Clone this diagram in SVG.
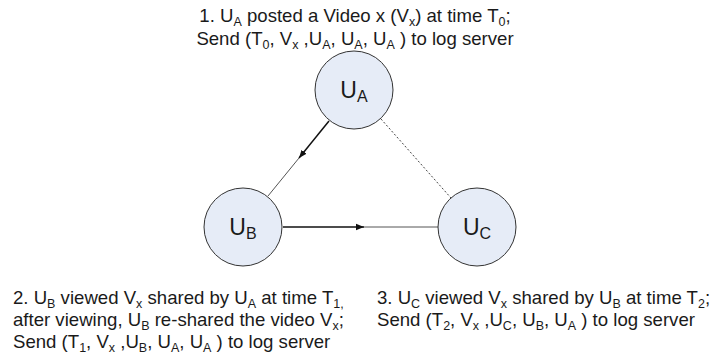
<svg xmlns="http://www.w3.org/2000/svg" width="720" height="354" viewBox="0 0 720 354">
<style>
  .t { font-family: "Liberation Sans", Arial, sans-serif; font-size: 18.6px; fill: #1a1a1a; }
  .s { font-size: 12.5px; }
  .node circle { fill: #e6ecf7; stroke: #333; stroke-width: 1; }
  .lbl { font-family: "Liberation Sans", Arial, sans-serif; font-size: 23px; fill: #1a1a1a; text-anchor: middle; }
  .ls { font-size: 16px; }
  .dark { stroke: #111; stroke-width: 1.5; fill: none; }
  .light { stroke: #555; stroke-width: 1; fill: none; }
  .dot { stroke: #444; stroke-width: 1; stroke-dasharray: 2 2; fill: none; }
</style>
<defs>
  <marker id="arr" viewBox="0 0 10 10" refX="10" refY="5" markerWidth="8" markerHeight="8" markerUnits="userSpaceOnUse" orient="auto">
    <path d="M0,1 L10,5 L0,9 z" fill="#111"/>
  </marker>
</defs>

<g id="connectors">
  <line class="dark" x1="329" y1="121" x2="299" y2="158" marker-end="url(#arr)"/>
  <line class="light" x1="299" y1="158" x2="268" y2="196"/>
  <line class="dark" x1="283" y1="227" x2="364" y2="227" marker-end="url(#arr)"/>
  <line class="light" x1="364" y1="227" x2="438" y2="227"/>
  <line class="dot" x1="381" y1="119" x2="451" y2="198"/>
</g>

<g id="node-UA" class="node">
  <circle cx="354" cy="90" r="39"/>
  <text class="lbl" x="354" y="98">U<tspan class="ls" dy="4">A</tspan></text>
</g>
<g id="node-UB" class="node">
  <circle cx="243" cy="227" r="39"/>
  <text class="lbl" x="243" y="235">U<tspan class="ls" dy="4">B</tspan></text>
</g>
<g id="node-UC" class="node">
  <circle cx="477" cy="227" r="39"/>
  <text class="lbl" x="477" y="235">U<tspan class="ls" dy="4">C</tspan></text>
</g>

<g id="label-1">
  <text class="t" x="355" y="22" text-anchor="middle">1. U<tspan class="s" dy="3.5">A</tspan><tspan dy="-3.5"> posted a Video x (V</tspan><tspan class="s" dy="3.5">x</tspan><tspan dy="-3.5">) at time T</tspan><tspan class="s" dy="3.5">0</tspan><tspan dy="-3.5">;</tspan></text>
  <text class="t" x="355" y="45" text-anchor="middle">Send (T<tspan class="s" dy="3.5">0</tspan><tspan dy="-3.5">, V</tspan><tspan class="s" dy="3.5">x</tspan><tspan dy="-3.5"> ,U</tspan><tspan class="s" dy="3.5">A</tspan><tspan dy="-3.5">, U</tspan><tspan class="s" dy="3.5">A</tspan><tspan dy="-3.5">, U</tspan><tspan class="s" dy="3.5">A</tspan><tspan dy="-3.5"> ) to log server</tspan></text>
</g>

<g id="label-2">
  <text class="t" x="13" y="304">2. U<tspan class="s" dy="3.5">B</tspan><tspan dy="-3.5"> viewed V</tspan><tspan class="s" dy="3.5">x</tspan><tspan dy="-3.5"> shared by U</tspan><tspan class="s" dy="3.5">A</tspan><tspan dy="-3.5"> at time T</tspan><tspan class="s" dy="3.5">1,</tspan></text>
  <text class="t" x="13" y="326">after viewing, U<tspan class="s" dy="3.5">B</tspan><tspan dy="-3.5"> re-shared the video V</tspan><tspan class="s" dy="3.5">x</tspan><tspan dy="-3.5">;</tspan></text>
  <text class="t" x="13" y="348">Send (T<tspan class="s" dy="3.5">1</tspan><tspan dy="-3.5">, V</tspan><tspan class="s" dy="3.5">x</tspan><tspan dy="-3.5"> ,U</tspan><tspan class="s" dy="3.5">B</tspan><tspan dy="-3.5">, U</tspan><tspan class="s" dy="3.5">A</tspan><tspan dy="-3.5">, U</tspan><tspan class="s" dy="3.5">A</tspan><tspan dy="-3.5"> ) to log server</tspan></text>
</g>

<g id="label-3">
  <text class="t" x="377" y="304">3. U<tspan class="s" dy="3.5">C</tspan><tspan dy="-3.5"> viewed V</tspan><tspan class="s" dy="3.5">x</tspan><tspan dy="-3.5"> shared by U</tspan><tspan class="s" dy="3.5">B</tspan><tspan dy="-3.5"> at time T</tspan><tspan class="s" dy="3.5">2</tspan><tspan dy="-3.5">;</tspan></text>
  <text class="t" x="377" y="326">Send (T<tspan class="s" dy="3.5">2</tspan><tspan dy="-3.5">, V</tspan><tspan class="s" dy="3.5">x</tspan><tspan dy="-3.5"> ,U</tspan><tspan class="s" dy="3.5">C</tspan><tspan dy="-3.5">, U</tspan><tspan class="s" dy="3.5">B</tspan><tspan dy="-3.5">, U</tspan><tspan class="s" dy="3.5">A</tspan><tspan dy="-3.5"> ) to log server</tspan></text>
</g>
</svg>
